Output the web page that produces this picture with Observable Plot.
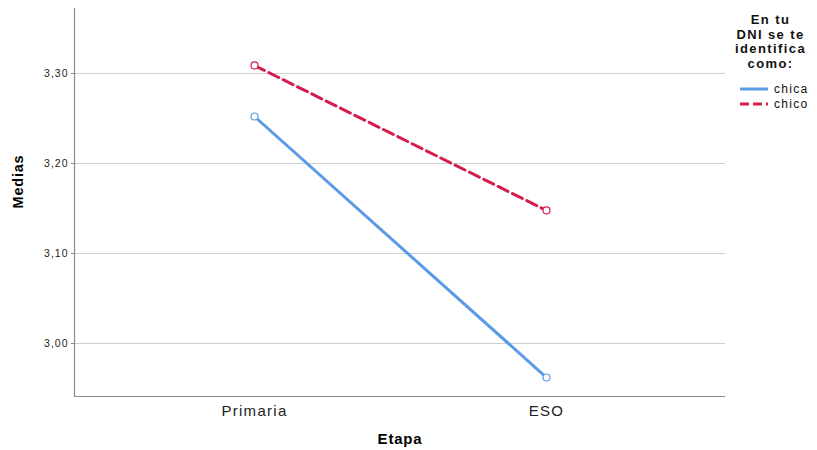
<!DOCTYPE html>
<html>
<head>
<meta charset="utf-8">
<script src="https://cdn.jsdelivr.net/npm/d3@7"></script>
<script src="https://cdn.jsdelivr.net/npm/@observablehq/plot@0.6"></script>
<style>
  html, body { margin: 0; padding: 0; background: #fff; }
  #wrap { position: relative; width: 817px; height: 450px; font-family: "Liberation Sans", Arial, sans-serif; }
  #legend { position: absolute; left: 724px; top: 13px; width: 93px; color: #111; }
  #legend .title { font-weight: bold; font-size: 13px; line-height: 14.6px; text-align: center; letter-spacing: 1.4px; }
  #legend .item { display: flex; align-items: center; font-size: 12px; letter-spacing: 1.3px; margin-left: 16px; height: 15px; }
  #legend svg { margin-right: 4px; }
</style>
</head>
<body>
<div id="wrap"></div>
<script>
const etapas = ["Primaria", "ESO"];
const series = ["chica", "chico"];
const chica = [3.2522, 2.9622];
const chico = [3.3089, 3.1478];
const yTicks = [3.0, 3.1, 3.2, 3.3];
const yDomain = [2.9411, 3.3722];
const colors = ["#5b9be6", "#d51f4b"];
const dashes = [null, "11,5"];

const rows = [];
etapas.forEach((e, i) => {
  rows.push({etapa: e, sexo: "chica", media: chica[i]});
  rows.push({etapa: e, sexo: "chico", media: chico[i]});
});

const fmt = d => d.toFixed(2).replace(".", ",");

const chart = Plot.plot({
  width: 817,
  height: 450,
  marginLeft: 74,
  marginRight: 92,
  marginTop: 8,
  marginBottom: 54,
  style: {fontFamily: "Liberation Sans, Arial, sans-serif", background: "#fff"},
  x: {type: "point", domain: etapas, padding: 0.611},
  y: {domain: yDomain},
  color: {domain: series, range: colors},
  marks: [
    Plot.gridY(yTicks, {stroke: "#cfcfcf", strokeOpacity: 1, strokeWidth: 1}),
    Plot.ruleY([yDomain[0]], {stroke: "#8a8a8a", strokeWidth: 1.2}),
    Plot.frame({anchor: "left", stroke: "#8a8a8a", strokeWidth: 1.2}),
    Plot.axisY(yTicks, {
      tickFormat: fmt, tickSize: 3, tickPadding: 3, stroke: "#8a8a8a",
      fontSize: 10.5, fill: "#222", label: null
    }),
    Plot.axisX({
      tickSize: 0, tickPadding: 9, fontSize: 15, fill: "#222", label: null
    }),
    Plot.text(["Medias"], {frameAnchor: "left", dx: -56, dy: 6, rotate: -90, fontWeight: "bold", fontSize: 14.5, fill: "#000"}),
    Plot.text(["Etapa"], {frameAnchor: "bottom", dy: 47, fontWeight: "bold", fontSize: 15, fill: "#000"}),
    Plot.line(rows.filter(d => d.sexo === "chica"), {x: "etapa", y: "media", stroke: colors[0], strokeWidth: 3}),
    Plot.line(rows.filter(d => d.sexo === "chico"), {x: "etapa", y: "media", stroke: colors[1], strokeWidth: 3, strokeDasharray: dashes[1]}),
    Plot.dot(rows, {x: "etapa", y: "media", stroke: "sexo", r: 3.5, strokeWidth: 1.2, fill: "#fff"})
  ]
});
chart.querySelectorAll("g[aria-label='x-axis tick label'] text, g[aria-label='y-axis tick label'] text").forEach(t => t.setAttribute("letter-spacing", t.closest("g[aria-label='x-axis tick label']") ? "1.3" : "1"));
chart.querySelectorAll("g[aria-label='text'] text").forEach(t => t.setAttribute("letter-spacing", "0.8"));

const wrap = document.getElementById("wrap");
wrap.appendChild(chart);

const legend = document.createElement("div");
legend.id = "legend";
let html = '<div class="title">En tu<br>DNI se te<br>identifica<br>como:</div><div style="height:10px"></div>';
series.forEach((s, i) => {
  html += '<div class="item"><svg width="30" height="6"><line x1="0" x2="28" y1="3" y2="3" stroke="' + colors[i] + '" stroke-width="3"' + (dashes[i] ? ' stroke-dasharray="9,4"' : '') + '/></svg>' + s + '</div>';
});
legend.innerHTML = html;
wrap.appendChild(legend);
</script>
</body>
</html>
